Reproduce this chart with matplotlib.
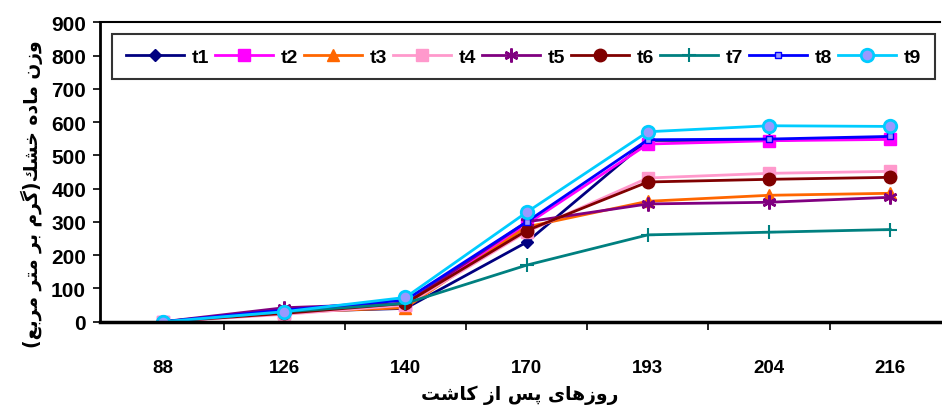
import numpy as np
import matplotlib
matplotlib.use("Agg")
from matplotlib import pyplot as plt

days = ["88", "126", "140", "170", "193", "204", "216"]

t1 = [0, 30, 40, 239, 545, 545, 555]
t2 = [0, 25, 50, 293, 534, 544, 548]
t3 = [0, 28, 42, 285, 362, 380, 386]
t4 = [0, 22, 50, 270, 432, 446, 452]
t5 = [0, 42, 55, 300, 354, 359, 374]
t6 = [0, 25, 55, 274, 420, 428, 434]
t7 = [0, 30, 55, 170, 261, 269, 277]
t8 = [0, 35, 65, 300, 547, 549, 557]
t9 = [0, 30, 73, 329, 571, 589, 587]

names = ["t1", "t2", "t3", "t4", "t5", "t6", "t7", "t8", "t9"]
series = [t1, t2, t3, t4, t5, t6, t7, t8, t9]

ylabel_fa = "وزن ماده خشك(گرم بر متر مربع)"
xlabel_fa = "روزهای پس از كاشت"

# matplotlib has no arabic shaping, so do the joining forms by hand
FORMS = {
    "ا": ("\uFE8D", "\uFE8E", None, None),
    "د": ("\uFEA9", "\uFEAA", None, None),
    "ر": ("\uFEAD", "\uFEAE", None, None),
    "ز": ("\uFEAF", "\uFEB0", None, None),
    "و": ("\uFEED", "\uFEEE", None, None),
    "ب": ("\uFE8F", "\uFE90", "\uFE91", "\uFE92"),
    "ت": ("\uFE95", "\uFE96", "\uFE97", "\uFE98"),
    "خ": ("\uFEA5", "\uFEA6", "\uFEA7", "\uFEA8"),
    "س": ("\uFEB1", "\uFEB2", "\uFEB3", "\uFEB4"),
    "ش": ("\uFEB5", "\uFEB6", "\uFEB7", "\uFEB8"),
    "ع": ("\uFEC9", "\uFECA", "\uFECB", "\uFECC"),
    "ك": ("\uFED9", "\uFEDA", "\uFEDB", "\uFEDC"),
    "م": ("\uFEE1", "\uFEE2", "\uFEE3", "\uFEE4"),
    "ن": ("\uFEE5", "\uFEE6", "\uFEE7", "\uFEE8"),
    "ه": ("\uFEE9", "\uFEEA", "\uFEEB", "\uFEEC"),
    "ی": ("\uFBFC", "\uFBFD", "\uFBFE", "\uFBFF"),
    "پ": ("\uFB56", "\uFB57", "\uFB58", "\uFB59"),
    "گ": ("\uFB92", "\uFB93", "\uFB94", "\uFB95"),
}


def shape(text):
    out = []
    for i, c in enumerate(text):
        if c not in FORMS:
            out.append(c)
            continue
        prev = text[i - 1] if i > 0 else ""
        nxt = text[i + 1] if i + 1 < len(text) else ""
        jp = prev in FORMS and FORMS[prev][2] is not None
        jn = nxt in FORMS and FORMS[c][2] is not None
        iso, fin, ini, med = FORMS[c]
        if jp and jn:
            out.append(med)
        elif jp:
            out.append(fin)
        elif jn:
            out.append(ini)
        else:
            out.append(iso)
    s = "".join(out)[::-1]
    return s.translate(str.maketrans("()", ")("))


plt.rcParams["font.family"] = ["Liberation Sans", "DejaVu Sans"]
plt.rcParams["font.weight"] = "bold"

styles = [
    dict(color="#000080", marker="D", ms=6),
    dict(color="#FF00FF", marker="s", ms=8),
    dict(color="#FF6600", marker="^", ms=8),
    dict(color="#FF99CC", marker="s", ms=8),
    dict(color="#800080", marker=(6, 2, 0), ms=10, mew=1.8),
    dict(color="#800000", marker="o", ms=9),
    dict(color="#008080", marker="+", ms=10, mew=1.5),
    dict(color="#0000FF", marker="s", ms=4, mfc="#9999FF"),
    dict(color="#00CCFF", marker="o", ms=9, mfc="#9999FF", mec="#00CCFF", mew=2),
]

fig = plt.figure(figsize=(9.42, 4.10), dpi=100)
ax = fig.add_axes([100 / 942, 87.3 / 410, 840 / 942, 299.4 / 410])

x = np.arange(len(days))
for name, vals, st in zip(names, series, styles):
    ax.plot(x, vals, lw=2, label=name, **st)

ax.set_xlim(-0.52, 6.41)
ax.set_ylim(0, 900)
ax.set_yticks(np.arange(0, 901, 100))
ax.set_xticks(x)
ax.set_xticklabels(days)
ax.set_xticks(np.arange(0.5, 6.5, 1), minor=True)
ax.tick_params(axis="x", which="major", length=0, pad=27, labelsize=13.5)
ax.tick_params(axis="x", which="minor", length=6, width=1.2, direction="out")
ax.tick_params(axis="y", length=5, width=1.2, pad=5, labelsize=15)

ax.spines["right"].set_visible(False)
ax.spines["bottom"].set_linewidth(2.5)
ax.spines["left"].set_linewidth(2)
ax.spines["top"].set_linewidth(1.5)

ax.set_ylabel(shape(ylabel_fa), fontsize=13.5, fontweight="bold",
              family=["DejaVu Sans"])
ax.yaxis.set_label_coords(-0.068, 0.43)
ax.set_xlabel(shape(xlabel_fa), fontsize=13.5, fontweight="bold",
              family=["DejaVu Sans"], labelpad=6)

leg = ax.legend(loc="upper left", bbox_to_anchor=(12 / 840, 1 - 12 / 299.4, 823 / 840, 0),
                mode="expand", ncol=9, frameon=True, fancybox=False,
                borderaxespad=0, handlelength=3, handletextpad=0.4,
                columnspacing=0.8, borderpad=0.7,
                prop=dict(size=14, weight="bold"))
leg.get_frame().set_edgecolor("black")
leg.get_frame().set_linewidth(1.5)

fig.savefig("out.png", dpi=100)
